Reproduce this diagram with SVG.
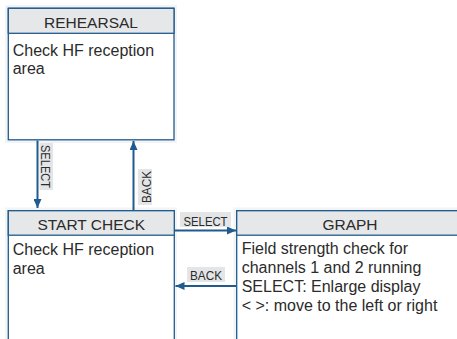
<svg xmlns="http://www.w3.org/2000/svg" width="457" height="339" viewBox="0 0 457 339">
  <defs>
    <style>
      .halo { fill: #f3f4f6; }
      .box { fill: #ffffff; stroke: #1f5b8e; stroke-width: 1.3; }
      .head { fill: #e6e7e8; stroke: #1f5b8e; stroke-width: 1.3; }
      .ht { font-family: "Liberation Sans", Arial, sans-serif; font-size: 15.5px; fill: #2b2b2b; text-anchor: middle; }
      .bt { font-family: "Liberation Sans", Arial, sans-serif; font-size: 16px; fill: #2b2b2b; }
      .lbg { fill: #e4e5e6; }
      .lt { font-family: "Liberation Sans", Arial, sans-serif; font-size: 13px; fill: #2b2b2b; text-anchor: middle; }
      .conn { stroke: #1f5b8e; stroke-width: 2; fill: none; marker-end: url(#arr); }
    </style>
    <marker id="arr" markerUnits="userSpaceOnUse" markerWidth="10" markerHeight="8" refX="9" refY="4" orient="auto">
      <path d="M0,0 L9,4 L0,8 Z" fill="#1f5b8e"/>
    </marker>
  </defs>
  <rect width="457" height="339" fill="#ffffff"/>

  <g id="rehearsal">
    <rect class="halo" x="5" y="5" width="172" height="138"/>
    <rect class="box" x="8.3" y="8.3" width="165.7" height="131.5"/>
    <rect class="head" x="8.3" y="8.3" width="165.7" height="25"/>
    <text class="ht" x="91" y="27.5">REHEARSAL</text>
    <text class="bt" x="12.7" y="56">Check HF reception</text>
    <text class="bt" x="12.7" y="74">area</text>
  </g>

  <g id="start-check">
    <rect class="halo" x="5" y="207.5" width="172" height="140"/>
    <rect class="box" x="8.3" y="210.7" width="166" height="140"/>
    <rect class="head" x="8.3" y="210.7" width="166" height="24.5"/>
    <text class="ht" x="91.3" y="229.5">START CHECK</text>
    <text class="bt" x="12.7" y="255">Check HF reception</text>
    <text class="bt" x="12.7" y="273.5">area</text>
  </g>

  <g id="graph">
    <rect class="halo" x="233.5" y="207.5" width="240" height="140"/>
    <rect class="box" x="236.7" y="210.7" width="227" height="140"/>
    <rect class="head" x="236.7" y="210.7" width="227" height="24.5"/>
    <text class="ht" x="350" y="229.5">GRAPH</text>
    <text class="bt" x="241.7" y="253.5">Field strength check for</text>
    <text class="bt" x="241.7" y="272.5">channels 1 and 2 running</text>
    <text class="bt" x="241.7" y="291.5">SELECT: Enlarge display</text>
    <text class="bt" x="241.7" y="310.5">&lt; &gt;: move to the left or right</text>
  </g>

  <g id="connectors">
    <line class="conn" x1="37.5" y1="140.5" x2="37.5" y2="208"/>
    <rect class="lbg" x="39.5" y="143" width="13.5" height="47"/>
    <text class="lt" transform="translate(41,166.5) rotate(90)" textLength="43" lengthAdjust="spacingAndGlyphs">SELECT</text>

    <line class="conn" x1="133.5" y1="210" x2="133.5" y2="141"/>
    <rect class="lbg" x="138" y="169" width="14" height="36"/>
    <text class="lt" transform="translate(150.5,187) rotate(-90)" textLength="32" lengthAdjust="spacingAndGlyphs">BACK</text>

    <line class="conn" x1="175" y1="230.5" x2="236" y2="230.5"/>
    <rect class="lbg" x="180" y="212" width="51" height="15"/>
    <text class="lt" x="205.5" y="225.5" textLength="44" lengthAdjust="spacingAndGlyphs">SELECT</text>

    <line class="conn" x1="236" y1="286" x2="175.5" y2="286"/>
    <rect class="lbg" x="187" y="267" width="38" height="15"/>
    <text class="lt" x="206" y="279.5" textLength="32" lengthAdjust="spacingAndGlyphs">BACK</text>
  </g>
</svg>
